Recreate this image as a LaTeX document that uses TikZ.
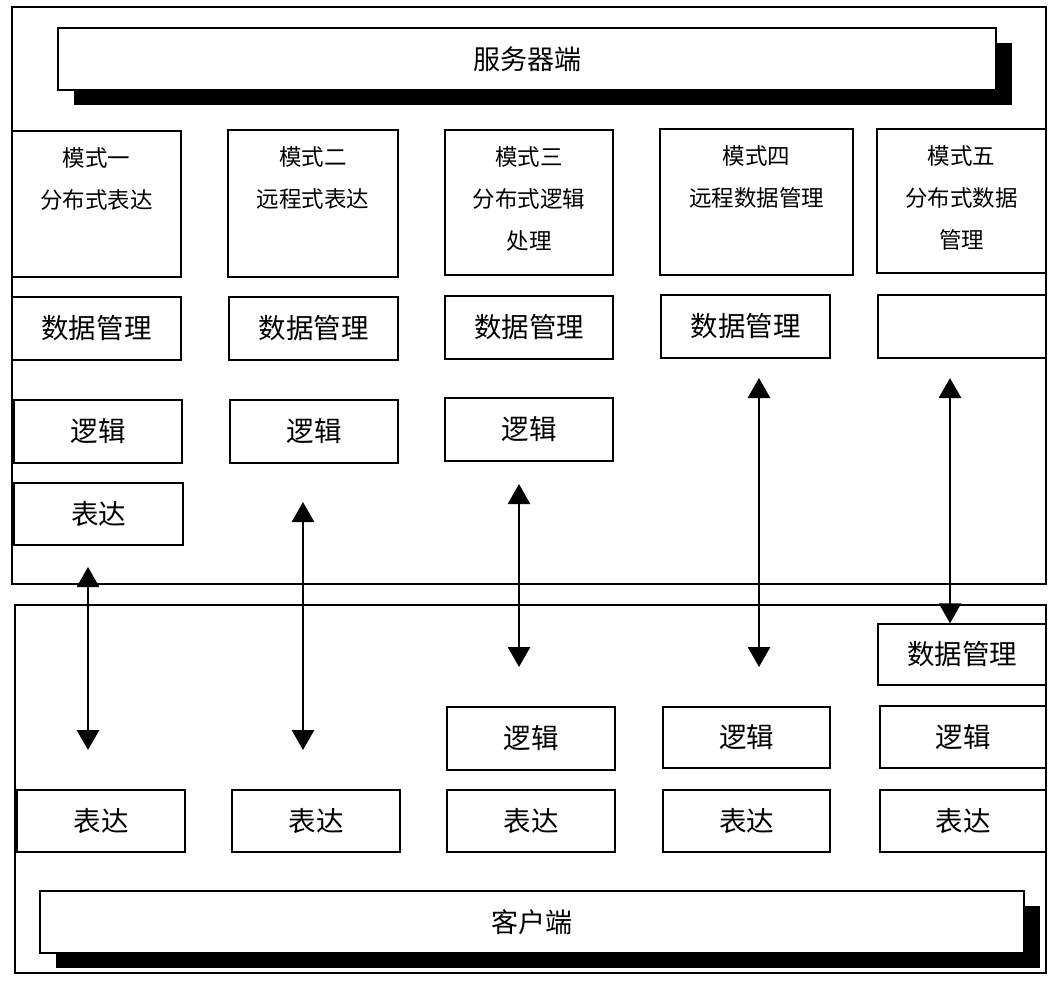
\documentclass[tikz,border=0pt]{standalone}
\usepackage{fontspec}
\newfontfamily\cjk{Noto Sans CJK SC}
\usetikzlibrary{arrows.meta,shadows}
\newcommand\bnode[7][]{\node[#1,minimum width={(#5-#3)*1pt},minimum height={(#6-#4)*1pt}] (#2) at ({(#3+#5)/2},{(#4+#6)/2}) {#7};}
\newcommand\modetxt[3]{\begin{minipage}[t][#1pt][t]{#2pt}\centering\vspace*{17pt}#3\end{minipage}}
\tikzset{
  outerbox/.style={draw,line width=1.6pt,inner sep=0pt},
  bx/.style={draw,line width=1.5pt,fill=white,inner sep=0pt,font=\cjk\fontsize{27.5}{30}\selectfont},
  modebox/.style={bx,font=\cjk\fontsize{22.5}{42}\selectfont},
  banner/.style={bx,font=\cjk\fontsize{27}{30}\selectfont,drop shadow={shadow xshift=16pt,shadow yshift=-15pt,opacity=1,fill=black}},
  arr/.style={line width=2.8pt,{Triangle[width=22pt,length=20pt]}-{Triangle[width=22pt,length=20pt]}}
}
\begin{document}
\begin{tikzpicture}[x=1pt,y=-1pt]
\useasboundingbox[fill=white] (0,0) rectangle (1063,980);
% outer containers
\bnode[outerbox]{server}{12}{7}{1046}{584}{}
\bnode[outerbox]{client}{15}{605}{1046}{973}{}
% banners
\bnode[banner]{sbanner}{58}{28}{996}{90}{服务器端}
\bnode[banner]{cbanner}{40}{891}{1024}{953}{客户端}
% mode boxes
\bnode[modebox]{m1}{12}{131}{181}{277}{\modetxt{146}{169}{模式一\\分布式表达}}
\bnode[modebox]{m2}{228}{130}{398}{277}{\modetxt{147}{170}{模式二\\远程式表达}}
\bnode[modebox]{m3}{445}{130}{613}{275}{\modetxt{145}{168}{模式三\\分布式逻辑\\处理}}
\bnode[modebox]{m4}{660}{129}{853}{275}{\modetxt{146}{193}{模式四\\远程数据管理}}
\bnode[modebox]{m5}{877}{129}{1046}{273}{\modetxt{144}{169}{模式五\\分布式数据\\管理}}
% server data management
\bnode[bx]{dm1}{12}{297}{181}{360}{数据管理}
\bnode[bx]{dm2}{229}{297}{398}{360}{数据管理}
\bnode[bx]{dm3}{445}{296}{613}{359}{数据管理}
\bnode[bx]{dm4}{661}{295}{830}{358}{数据管理}
\bnode[bx]{dm5}{878}{295}{1046}{358}{}
% server logic
\bnode[bx]{l1}{14}{400}{182}{463}{逻辑}
\bnode[bx]{l2}{230}{400}{398}{463}{逻辑}
\bnode[bx]{l3}{445}{398}{613}{461}{逻辑}
% server presentation
\bnode[bx]{e1}{14}{483}{183}{545}{表达}
% client side
\bnode[bx]{cdm5}{878}{624}{1046}{685}{数据管理}
\bnode[bx]{cl3}{447}{707}{615}{770}{逻辑}
\bnode[bx]{cl4}{663}{707}{830}{768}{逻辑}
\bnode[bx]{cl5}{880}{706}{1046}{768}{逻辑}
\bnode[bx]{ce1}{17}{790}{185}{852}{表达}
\bnode[bx]{ce2}{232}{790}{400}{852}{表达}
\bnode[bx]{ce3}{447}{790}{615}{852}{表达}
\bnode[bx]{ce4}{663}{790}{830}{852}{表达}
\bnode[bx]{ce5}{880}{790}{1046}{852}{表达}
% arrow end points
\coordinate (a1t) at (88,567);  \coordinate (a1b) at (88,750);
\coordinate (a2t) at (303,502); \coordinate (a2b) at (303,750);
\coordinate (a3t) at (519,484); \coordinate (a3b) at (519,667);
\coordinate (a4t) at (759,378); \coordinate (a4b) at (759,667);
\coordinate (a5t) at (950,378);
\draw[arr] (a1t) -- (a1b);
\draw[arr] (a2t) -- (a2b);
\draw[arr] (a3t) -- (a3b);
\draw[arr] (a4t) -- (a4b);
\draw[arr] (a5t) -- (a5t |- cdm5.north);
\end{tikzpicture}
\end{document}
